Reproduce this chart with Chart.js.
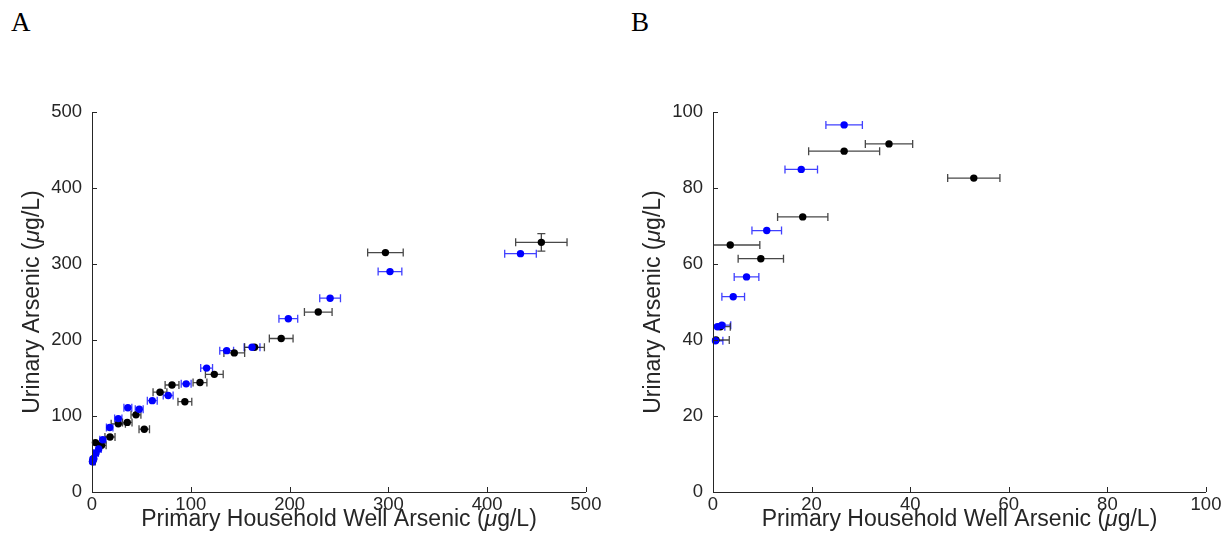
<!DOCTYPE html>
<html><head><meta charset="utf-8">
<script src="https://cdn.jsdelivr.net/npm/chart.js@4.4.1/dist/chart.umd.min.js"></script>
<style>
body{margin:0;background:#fff;width:1225px;height:558px;overflow:hidden;position:relative;}
.panel{position:absolute;top:0;}
.lab{position:absolute;font-family:'Liberation Serif','Times New Roman',serif;font-size:27px;color:#000;line-height:1;}
</style></head><body>
<div class="lab" style="left:11px;top:9px">A</div>
<div class="lab" style="left:631px;top:9px">B</div>
<div class="panel" style="left:0"><canvas id="ca" width="612" height="558"></canvas></div>
<div class="panel" style="left:612px"><canvas id="cb" width="613" height="558"></canvas></div>
<script>
// ---- data ----
const blackX    = [0.6, 1.5, 3.5, 9.7, 18.2, 26.6, 35.7, 44.5, 52.9, 68.8, 81, 94, 109.3, 123.8, 144, 164.5, 191.5, 229, 297, 454.8];
const blackY    = [40, 43.5, 65, 61.4, 72.4, 89.7, 91.6, 101.5, 82.6, 131.3, 140.8, 118.8, 144, 154.8, 183, 190.4, 202, 236.8, 315, 328.5];
const blackXErr = [2.7, 2, 6, 4.6, 5.1, 7.2, 4.8, 5, 5.3, 7, 7, 7, 7, 9, 10.5, 10, 12, 14, 18, 26];
const blackYErr = [0.8, 0.8, 0.8, 0.8, 0.8, 0.8, 0.8, 0.8, 0.8, 0.8, 0.8, 0.8, 0.8, 0.8, 0.8, 0.8, 0.8, 0.8, 0.8, 11.5];

const blueX    = [0.5, 0.9, 1.8, 4.1, 6.8, 10.9, 17.9, 26.6, 36.3, 47.8, 61, 77.1, 95.3, 116, 136.3, 162, 198.7, 241, 301.6, 433.7];
const blueY    = [39.8, 43.5, 43.9, 51.4, 56.6, 68.8, 84.9, 96.6, 110.8, 108.8, 120.2, 127, 142.3, 163, 186, 190.4, 228, 255, 290, 313.6];
const blueXErr = [1.5, 1.5, 1.8, 2.3, 2.5, 3, 3.3, 3.7, 4, 4, 5, 5, 5, 6, 7, 8, 9.5, 10.5, 12, 16];
const blueYErr = [0.8, 0.8, 0.8, 0.8, 0.8, 0.8, 0.8, 0.8, 0.8, 0.8, 0.8, 0.8, 0.8, 0.8, 0.8, 0.8, 0.8, 0.8, 0.8, 4];

const panelA = {xMax: 500, yMax: 500, step: 100};
const panelB = {xMax: 100, yMax: 100, step: 20};
const yTitle = ['Urinary Arsenic (', 'μ', 'g/L)'];
const xTitle = ['Primary Household Well Arsenic (', 'μ', 'g/L)'];

// ---- helpers ----
const AX = '#262626';
const FONT = "'Liberation Sans', Arial, sans-serif";

const errorBars = {
  id: 'errorBars',
  beforeDatasetsDraw(chart) {
    const {ctx, chartArea: a, scales: {x, y}} = chart;
    ctx.save();
    ctx.beginPath(); ctx.rect(a.left, a.top, a.right - a.left, a.bottom - a.top); ctx.clip();
    chart.data.datasets.forEach(ds => {
      ctx.strokeStyle = ds.barColor; ctx.lineWidth = 1.3;
      ds.data.forEach((p, i) => {
        const px = x.getPixelForValue(p.x), py = y.getPixelForValue(p.y);
        const ex = ds.errX[i], ey = ds.errY[i];
        const x0 = x.getPixelForValue(p.x - ex), x1 = x.getPixelForValue(p.x + ex);
        const y0 = y.getPixelForValue(p.y - ey), y1 = y.getPixelForValue(p.y + ey);
        const c = 4;
        ctx.beginPath();
        ctx.moveTo(x0, py); ctx.lineTo(x1, py);
        ctx.moveTo(x0, py - c); ctx.lineTo(x0, py + c);
        ctx.moveTo(x1, py - c); ctx.lineTo(x1, py + c);
        if (Math.abs(y1 - y0) > 7) {
          ctx.moveTo(px, y0); ctx.lineTo(px, y1);
          ctx.moveTo(px - c, y0); ctx.lineTo(px + c, y0);
          ctx.moveTo(px - c, y1); ctx.lineTo(px + c, y1);
        }
        ctx.stroke();
      });
    });
    ctx.restore();
  }
};

function drawMixed(ctx, parts, size) {
  const fonts = parts.map((t, i) => (i === 1 ? 'italic ' : '') + size + 'px ' + FONT);
  let w = 0;
  const ws = parts.map((t, i) => { ctx.font = fonts[i]; const m = ctx.measureText(t).width; w += m; return m; });
  let cx = -w / 2;
  parts.forEach((t, i) => { ctx.font = fonts[i]; ctx.fillText(t, cx, 0); cx += ws[i]; });
}

const axesPlugin = {
  id: 'axesPlugin',
  afterDraw(chart) {
    const {ctx, chartArea: a, scales: {x, y}} = chart;
    ctx.save();
    ctx.strokeStyle = AX; ctx.lineWidth = 1;
    ctx.beginPath();
    ctx.moveTo(a.left + 0.5, a.top); ctx.lineTo(a.left + 0.5, a.bottom + 0.5); ctx.lineTo(a.right, a.bottom + 0.5);
    x.ticks.forEach(t => { const px = Math.round(x.getPixelForValue(t.value)) + 0.5; ctx.moveTo(px, a.bottom); ctx.lineTo(px, a.bottom - 5); });
    y.ticks.forEach(t => { const py = Math.round(y.getPixelForValue(t.value)) + 0.5; ctx.moveTo(a.left, py); ctx.lineTo(a.left + 5, py); });
    ctx.stroke();
    ctx.fillStyle = AX; ctx.textBaseline = 'middle';
    ctx.save();
    ctx.translate((a.left + a.right) / 2, 520);
    drawMixed(ctx, xTitle, 23);
    ctx.restore();
    ctx.save();
    ctx.translate(a.left - 59, (a.top + a.bottom) / 2);
    ctx.rotate(-Math.PI / 2);
    drawMixed(ctx, yTitle, 23);
    ctx.restore();
    ctx.restore();
  }
};

function makeChart(id, panel, leftW, rightPad, clipTop) {
  const blue = blueX.map((v, i) => ({x: v, y: blueY[i]}));
  const black = blackX.map((v, i) => ({x: v, y: blackY[i]}));
  return new Chart(document.getElementById(id), {
    type: 'scatter',
    data: {datasets: [
      {data: blue, errX: blueXErr, errY: blueYErr, barColor: 'rgba(30,30,255,0.85)',
       pointRadius: 3.7, pointBackgroundColor: '#0000ff', pointBorderWidth: 0, pointHoverRadius: 3.7,
       clip: {left: 6, bottom: 6, right: 0, top: clipTop}},
      {data: black, errX: blackXErr, errY: blackYErr, barColor: 'rgba(40,40,40,0.85)',
       pointRadius: 3.7, pointBackgroundColor: '#000000', pointBorderWidth: 0, pointHoverRadius: 3.7,
       clip: {left: 6, bottom: 6, right: 0, top: clipTop}}
    ]},
    options: {
      responsive: false, animation: false,
      layout: {padding: {top: 112, right: rightPad, left: 0, bottom: 0}},
      plugins: {legend: {display: false}, tooltip: {enabled: false}},
      scales: {
        x: {type: 'linear', min: 0, max: panel.xMax,
            ticks: {stepSize: panel.step, color: AX, font: {family: FONT, size: 18.5}, padding: 2, maxRotation: 0},
            grid: {display: false, drawTicks: false}, border: {display: false},
            afterFit(s) { s.height = 66; }},
        y: {type: 'linear', min: 0, max: panel.yMax,
            ticks: {stepSize: panel.step, color: AX, font: {family: FONT, size: 18.5}, padding: 10},
            grid: {display: false, drawTicks: false}, border: {display: false},
            afterFit(s) { s.width = leftW; }}
      }
    },
    plugins: [errorBars, axesPlugin]
  });
}
makeChart('ca', panelA, 92, 26, 6);
makeChart('cb', panelB, 101, 19, 0);
</script>
</body></html>
